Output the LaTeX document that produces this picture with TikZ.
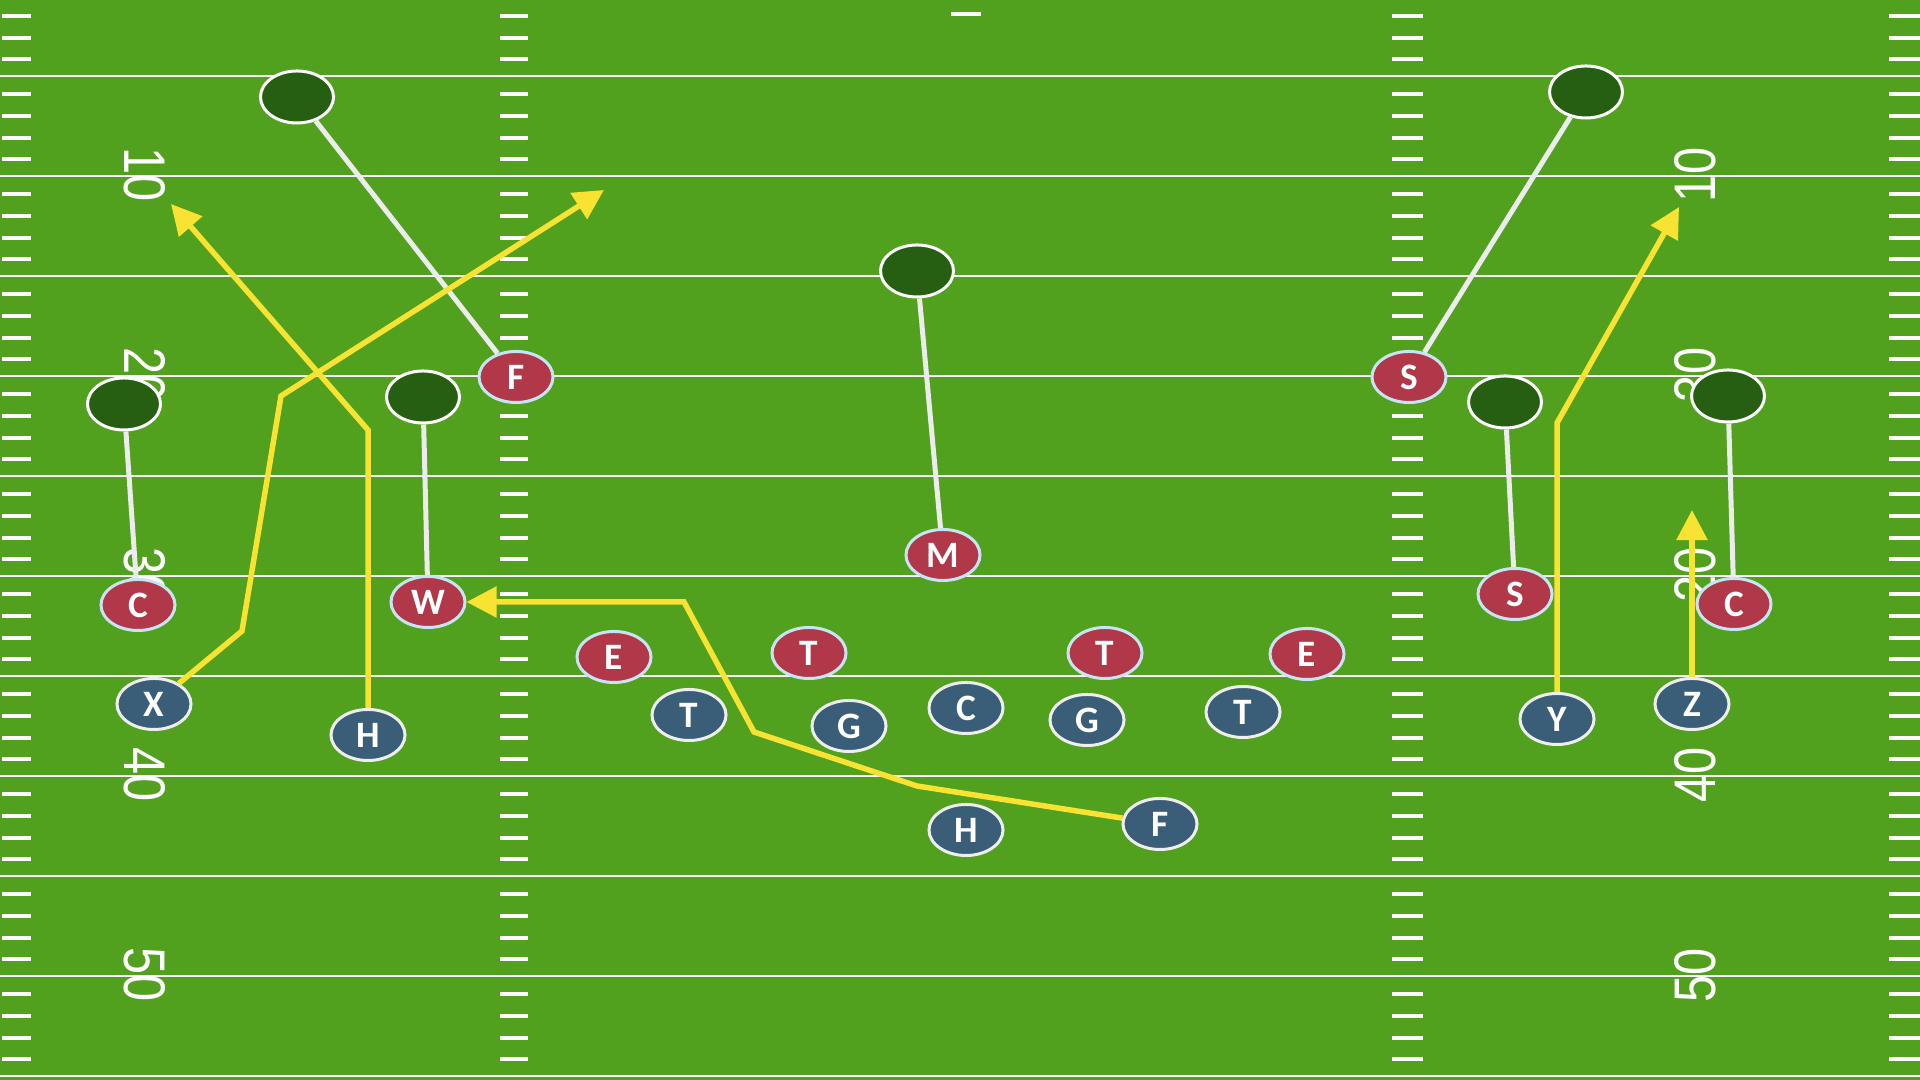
\documentclass[tikz,border=0pt]{standalone}
\usepackage{fontspec}
\newfontfamily\numfont{Liberation Sans}
\newfontfamily\plfont{Carlito}
\usetikzlibrary{shapes.geometric,arrows.meta}
\definecolor{field}{RGB}{81,160,30}
\definecolor{zonegreen}{RGB}{38,94,18}
\definecolor{defred}{RGB}{176,56,72}
\definecolor{offblue}{RGB}{58,94,120}
\definecolor{defrim}{RGB}{200,228,244}
\definecolor{offrim}{RGB}{238,238,238}
\definecolor{routey}{RGB}{248,226,50}
\definecolor{linkw}{RGB}{236,236,236}
\newcommand\yardnum[1]{\scalebox{0.83}[1]{#1}}
\begin{document}
\begin{tikzpicture}[x=0.01cm,y=-0.01cm,
  yardline/.style={draw=white!92!gray,line width=0.2mm},
  hashmark/.style={draw=white,line width=0.38mm},
  numleft/.style={text=white,font=\numfont\fontsize{16.7}{18}\selectfont,rotate=-90,inner sep=0pt},
  numright/.style={text=white,font=\numfont\fontsize{16.7}{18}\selectfont,rotate=90,inner sep=0pt},
  player/.style={ellipse,minimum width=7.4mm,minimum height=5.1mm,inner sep=0pt,line width=0.3mm,
    text=white,font=\plfont\bfseries\fontsize{10.6}{11}\selectfont},
  zone/.style={ellipse,minimum width=7.3mm,minimum height=5.2mm,inner sep=0pt,line width=0.3mm,
    fill=zonegreen,draw=white},
  defense/.style={player,fill=defred,draw=defrim},
  offense/.style={player,fill=offblue,draw=offrim},
  link/.style={draw=linkw,line width=0.5mm},
  route/.style={draw=routey,line width=0.55mm,line join=miter,
    -{Triangle[length=3mm,width=3mm]}}
]
\fill[field] (0,0) rectangle (1920,1080);
\useasboundingbox (0,0) rectangle (1920,1080);

% yard lines
\foreach \k in {0,...,10}
  \draw[yardline] (0,{76+100*\k}) -- (1920,{76+100*\k});

% hash marks
\foreach \k in {-1,...,9}
  \foreach \o in {18,40,62,83} {
    \draw[hashmark] (2,{76+100*\k+\o}) -- (31,{76+100*\k+\o});
    \draw[hashmark] (500,{76+100*\k+\o}) -- (528,{76+100*\k+\o});
    \draw[hashmark] (1392,{76+100*\k+\o}) -- (1423,{76+100*\k+\o});
    \draw[hashmark] (1889,{76+100*\k+\o}) -- (1920,{76+100*\k+\o});
  }
\draw[hashmark] (951,14) -- (981,14);

% yard numbers
\node[numleft] (nl10) at (145,175) {\yardnum{10}};
\node[numleft] (nl20) at (145,375) {\yardnum{20}};
\node[numleft] (nl30) at (145,575) {\yardnum{30}};
\node[numleft] (nl40) at (145,775) {\yardnum{40}};
\node[numleft] (nl50) at (145,975) {\yardnum{50}};
\node[numright] (nr10) at (1695,175) {\yardnum{10}};
\node[numright] (nr30) at (1695,375) {\yardnum{30}};
\node[numright] (nr20) at (1695,575) {\yardnum{20}};
\node[numright] (nr40) at (1695,775) {\yardnum{40}};
\node[numright] (nr50) at (1695,975) {\yardnum{50}};

% zones (drop points)
\node[zone] (z1) at (297,97) {};
\node[zone] (z2) at (917,271) {};
\node[zone] (z3) at (1586,92) {};
\node[zone] (z4) at (124,404) {};
\node[zone] (z5) at (423,397) {};
\node[zone] (z6) at (1505,402) {};
\node[zone] (z7) at (1728,396) {};

% defense
\node[defense] (dF) at (516,377) {F};
\node[defense] (dCl) at (138,605) {C};
\node[defense] (dW) at (428,602) {W};
\node[defense] (dEl) at (614,657) {E};
\node[defense] (dTl) at (809,653) {T};
\node[defense] (dM) at (943,555) {M};
\node[defense] (dTr) at (1105,653) {T};
\node[defense] (dEr) at (1307,654) {E};
\node[defense] (dSu) at (1409,377) {S};
\node[defense] (dSl) at (1515,594) {S};
\node[defense] (dCr) at (1734,604) {C};

% offense
\node[offense] (oX) at (154,704) {X};
\node[offense] (oHl) at (368,735) {H};
\node[offense] (oTl) at (689,715) {T};
\node[offense] (oGl) at (849,726) {G};
\node[offense] (oC) at (966,708) {C};
\node[offense] (oGr) at (1087,720) {G};
\node[offense] (oTr) at (1243,712) {T};
\node[offense] (oY) at (1557,719) {Y};
\node[offense] (oZ) at (1692,704) {Z};
\node[offense] (oHb) at (966,830) {H};
\node[offense] (oF) at (1160,824) {F};

% defender drops
\draw[link] (dF) -- (z1);
\draw[link] (dM) -- (z2);
\draw[link] (dSu) -- (z3);
\draw[link] (dCl) -- (z4);
\draw[link] (dW) -- (z5);
\draw[link] (dSl) -- (z6);
\draw[link] (dCr) -- (z7);

% route points
\coordinate (xa) at (242,631);
\coordinate (xb) at (281,396);
\coordinate (xend) at (604,190);
\coordinate (ha) at (368,430);
\coordinate (hend) at (171,204);
\coordinate (fa) at (917,786);
\coordinate (fb) at (754,732);
\coordinate (fc) at (684,602);
\coordinate (ya) at (1557,423);
\coordinate (yend) at (1679,207);
\coordinate (zend) at (1692,510);

% routes
\draw[route] (oX) -- (xa) -- (xb) -- (xend);
\draw[route] (oHl) -- (ha) -- (hend);
\draw[route] (oF) -- (fa) -- (fb) -- (fc) -- (dW);
\draw[route] (oY) -- (ya) -- (yend);
\draw[route] (oZ) -- (zend);
\end{tikzpicture}
\end{document}
